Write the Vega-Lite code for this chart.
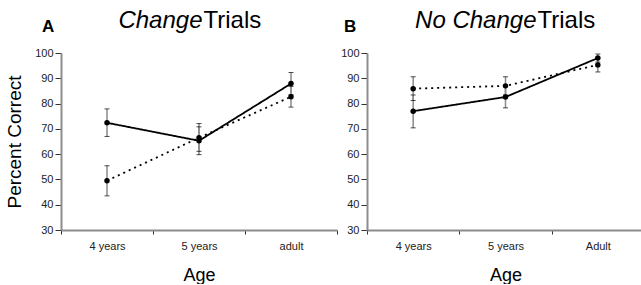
{
  "$schema": "https://vega.github.io/schema/vega-lite/v6.json",
  "background": "white",
  "padding": {"left": 5, "top": 8, "right": 0, "bottom": 0},
  "autosize": {"type": "pad"},
  "datasets": {
    "change": [
      {"age": "4 years", "cond": "solid", "mean": 72.4, "lo": 67.0, "hi": 77.9},
      {"age": "5 years", "cond": "solid", "mean": 65.3, "lo": 59.8, "hi": 70.8},
      {"age": "adult", "cond": "solid", "mean": 87.9, "lo": 83.5, "hi": 92.3},
      {"age": "4 years", "cond": "dotted", "mean": 49.5, "lo": 43.5, "hi": 55.4},
      {"age": "5 years", "cond": "dotted", "mean": 66.5, "lo": 61.1, "hi": 72.1},
      {"age": "adult", "cond": "dotted", "mean": 82.7, "lo": 78.6, "hi": 86.8}
    ],
    "nochange": [
      {"age": "4 years", "cond": "solid", "mean": 77.0, "lo": 70.4, "hi": 83.4},
      {"age": "5 years", "cond": "solid", "mean": 82.6, "lo": 78.3, "hi": 86.9},
      {"age": "Adult", "cond": "solid", "mean": 98.0, "lo": 96.4, "hi": 99.6},
      {"age": "4 years", "cond": "dotted", "mean": 85.9, "lo": 81.2, "hi": 90.6},
      {"age": "5 years", "cond": "dotted", "mean": 87.0, "lo": 83.4, "hi": 90.6},
      {"age": "Adult", "cond": "dotted", "mean": 95.3, "lo": 92.5, "hi": 98.1}
    ]
  },
  "hconcat": [
    {
      "width": 276,
      "height": 177,
      "data": {"name": "change"},
      "title": {"text": "A", "anchor": "start", "frame": "group", "dx": -19, "dy": 32, "fontSize": 17, "fontWeight": "bold", "color": "black"},
      "resolve": {"axis": {"x": "independent", "y": "independent"}},
      "layer": [
        {
          "mark": {"type": "rule", "color": "#8a8a8a", "strokeWidth": 1.5},
          "encoding": {
            "x": {"field": "age", "type": "nominal", "sort": ["4 years", "5 years", "adult"],
              "scale": {"type": "band", "paddingInner": 0, "paddingOuter": 0},
              "axis": {"title": "Age", "labelAngle": 0, "tickBand": "extent", "tickSize": 4, "labelPadding": 6, "titlePadding": 15}},
            "y": {"field": "lo", "type": "quantitative", "scale": {"domain": [30, 100], "nice": false, "zero": false},
              "axis": {"title": "Percent Correct", "titleFontSize": 19, "values": [30, 40, 50, 60, 70, 80, 90, 100], "tickSize": 6, "labelPadding": 2, "titlePadding": 10}},
            "y2": {"field": "hi"}
          }
        },
        {
          "mark": {"type": "tick", "color": "black", "size": 5, "thickness": 1},
          "encoding": {
            "x": {"field": "age", "type": "nominal", "sort": ["4 years", "5 years", "adult"], "axis": null},
            "y": {"field": "lo", "type": "quantitative", "axis": null}
          }
        },
        {
          "mark": {"type": "tick", "color": "black", "size": 5, "thickness": 1},
          "encoding": {
            "x": {"field": "age", "type": "nominal", "sort": ["4 years", "5 years", "adult"], "axis": null},
            "y": {"field": "hi", "type": "quantitative", "axis": null}
          }
        },
        {
          "mark": {"type": "line", "color": "black", "strokeWidth": 1.8},
          "encoding": {
            "x": {"field": "age", "type": "nominal", "sort": ["4 years", "5 years", "adult"],
              "axis": {"orient": "top", "title": "Change", "labels": false, "ticks": false, "domain": false,
                "titleX": 141, "titleY": -26, "titleAlign": "right", "titleBaseline": "alphabetic", "titleFontStyle": "italic", "titleFontSize": 24}},
            "y": {"field": "mean", "type": "quantitative", "axis": null},
            "strokeDash": {"field": "cond", "type": "nominal", "scale": {"domain": ["solid", "dotted"], "range": [[1, 0], [2, 4]]}, "legend": null}
          }
        },
        {
          "mark": {"type": "point", "filled": true, "color": "black", "size": 30, "opacity": 1},
          "encoding": {
            "x": {"field": "age", "type": "nominal", "sort": ["4 years", "5 years", "adult"], "axis": null},
            "y": {"field": "mean", "type": "quantitative",
              "axis": {"orient": "right", "title": "Trials", "labels": false, "ticks": false, "domain": false,
                "titleAngle": 0, "titleX": -134, "titleY": -26, "titleAlign": "left", "titleBaseline": "alphabetic", "titleFontSize": 24}}
          }
        }
      ]
    },
    {
      "width": 273,
      "height": 177,
      "data": {"name": "nochange"},
      "title": {"text": "B", "anchor": "start", "frame": "group", "dx": -23, "dy": 32, "fontSize": 17, "fontWeight": "bold", "color": "black"},
      "resolve": {"axis": {"x": "independent", "y": "independent"}},
      "layer": [
        {
          "mark": {"type": "rule", "color": "#8a8a8a", "strokeWidth": 1.5},
          "encoding": {
            "x": {"field": "age", "type": "nominal", "sort": ["4 years", "5 years", "Adult"],
              "scale": {"type": "band", "paddingInner": 0, "paddingOuter": 0, "range": [0, 277]},
              "axis": {"title": "Age", "labelAngle": 0, "tickBand": "extent", "tickSize": 4, "labelPadding": 6, "titlePadding": 15}},
            "y": {"field": "lo", "type": "quantitative", "scale": {"domain": [30, 100], "nice": false, "zero": false},
              "axis": {"title": null, "values": [30, 40, 50, 60, 70, 80, 90, 100], "tickSize": 6, "labelPadding": 2}},
            "y2": {"field": "hi"}
          }
        },
        {
          "mark": {"type": "tick", "color": "black", "size": 5, "thickness": 1},
          "encoding": {
            "x": {"field": "age", "type": "nominal", "sort": ["4 years", "5 years", "Adult"], "axis": null},
            "y": {"field": "lo", "type": "quantitative", "axis": null}
          }
        },
        {
          "mark": {"type": "tick", "color": "black", "size": 5, "thickness": 1},
          "encoding": {
            "x": {"field": "age", "type": "nominal", "sort": ["4 years", "5 years", "Adult"], "axis": null},
            "y": {"field": "hi", "type": "quantitative", "axis": null}
          }
        },
        {
          "mark": {"type": "line", "color": "black", "strokeWidth": 1.8},
          "encoding": {
            "x": {"field": "age", "type": "nominal", "sort": ["4 years", "5 years", "Adult"],
              "axis": {"orient": "top", "title": "No Change", "labels": false, "ticks": false, "domain": false,
                "titleX": 169, "titleY": -26, "titleAlign": "right", "titleBaseline": "alphabetic", "titleFontStyle": "italic", "titleFontSize": 24}},
            "y": {"field": "mean", "type": "quantitative", "axis": null},
            "strokeDash": {"field": "cond", "type": "nominal", "scale": {"domain": ["solid", "dotted"], "range": [[1, 0], [2.5, 4]]}, "legend": null}
          }
        },
        {
          "mark": {"type": "point", "filled": true, "color": "black", "size": 30, "opacity": 1},
          "encoding": {
            "x": {"field": "age", "type": "nominal", "sort": ["4 years", "5 years", "Adult"], "axis": null},
            "y": {"field": "mean", "type": "quantitative",
              "axis": {"orient": "right", "title": "Trials", "labels": false, "ticks": false, "domain": false,
                "titleAngle": 0, "titleX": -103, "titleY": -26, "titleAlign": "left", "titleBaseline": "alphabetic", "titleFontSize": 24}}
          }
        }
      ]
    }
  ],
  "spacing": 30,
  "bounds": "flush",
  "config": {
    "font": "Liberation Sans",
    "view": {"stroke": null},
    "axis": {"grid": false, "domainColor": "#8c8c8c", "domainWidth": 2, "tickColor": "#333", "tickWidth": 1,
      "labelColor": "#222", "labelFontSize": 11, "titleFontSize": 18, "titleFontWeight": "normal", "titleColor": "black"}
  }
}
